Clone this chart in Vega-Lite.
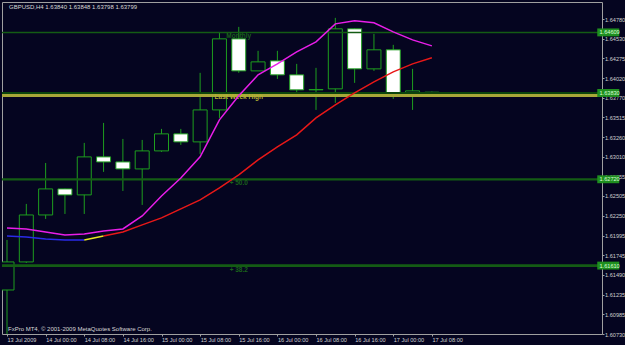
{
  "$schema": "https://vega.github.io/schema/vega-lite/v6.json",
  "width": 600,
  "height": 332,
  "autosize": {"type": "none"},
  "padding": {"left": 2, "top": 2, "right": 23, "bottom": 11},
  "background": "#050520",
  "config": {
    "view": {"stroke": "#a0a0a0", "fill": "#050520"},
    "font": "Liberation Sans, sans-serif",
    "axis": {"grid": false, "domain": false, "labelColor": "#d0d0d0", "tickColor": "#a0a0a0", "tickSize": 2, "labelFontSize": 5.6, "labelFlush": false, "labelOverlap": false, "labelBound": false}
  },
  "layer": [
    {
      "data": {
        "values": [
          {"time": "2009-07-13T16:00:00Z", "open": 1.61296, "high": 1.6194, "low": 1.607, "close": 1.61657},
          {"time": "2009-07-13T20:00:00Z", "open": 1.61657, "high": 1.62403, "low": 1.61644, "close": 1.62261},
          {"time": "2009-07-14T00:00:00Z", "open": 1.62261, "high": 1.6293, "low": 1.6221, "close": 1.62596},
          {"time": "2009-07-14T04:00:00Z", "open": 1.62596, "high": 1.626, "low": 1.62274, "close": 1.62519},
          {"time": "2009-07-14T08:00:00Z", "open": 1.62519, "high": 1.63188, "low": 1.62274, "close": 1.63008},
          {"time": "2009-07-14T12:00:00Z", "open": 1.63008, "high": 1.63445, "low": 1.62815, "close": 1.62943},
          {"time": "2009-07-14T16:00:00Z", "open": 1.62943, "high": 1.63239, "low": 1.6257, "close": 1.62853},
          {"time": "2009-07-14T20:00:00Z", "open": 1.62853, "high": 1.63226, "low": 1.6239, "close": 1.63085},
          {"time": "2009-07-15T00:00:00Z", "open": 1.63085, "high": 1.63368, "low": 1.63072, "close": 1.63304},
          {"time": "2009-07-15T04:00:00Z", "open": 1.63304, "high": 1.63368, "low": 1.63162, "close": 1.63201},
          {"time": "2009-07-15T08:00:00Z", "open": 1.63201, "high": 1.64089, "low": 1.63046, "close": 1.63612},
          {"time": "2009-07-15T12:00:00Z", "open": 1.63612, "high": 1.64603, "low": 1.63509, "close": 1.64526},
          {"time": "2009-07-15T16:00:00Z", "open": 1.64526, "high": 1.6468, "low": 1.64089, "close": 1.64114},
          {"time": "2009-07-15T20:00:00Z", "open": 1.64114, "high": 1.64372, "low": 1.64114, "close": 1.6423},
          {"time": "2009-07-16T00:00:00Z", "open": 1.64243, "high": 1.64372, "low": 1.64011, "close": 1.64063},
          {"time": "2009-07-16T04:00:00Z", "open": 1.64063, "high": 1.64204, "low": 1.63805, "close": 1.6387},
          {"time": "2009-07-16T08:00:00Z", "open": 1.6387, "high": 1.64153, "low": 1.63612, "close": 1.63875},
          {"time": "2009-07-16T12:00:00Z", "open": 1.63883, "high": 1.64796, "low": 1.63703, "close": 1.64655},
          {"time": "2009-07-16T16:00:00Z", "open": 1.64655, "high": 1.6466, "low": 1.6396, "close": 1.6414},
          {"time": "2009-07-16T20:00:00Z", "open": 1.6414, "high": 1.6459, "low": 1.64114, "close": 1.64385},
          {"time": "2009-07-17T00:00:00Z", "open": 1.64385, "high": 1.64449, "low": 1.63754, "close": 1.63818},
          {"time": "2009-07-17T04:00:00Z", "open": 1.63818, "high": 1.6414, "low": 1.63612, "close": 1.63857},
          {"time": "2009-07-17T08:00:00Z", "open": 1.6384, "high": 1.63848, "low": 1.63798, "close": 1.63799}
        ],
        "format": {"parse": {"time": "date"}}
      },
      "encoding": {
        "x": {
          "field": "time",
          "type": "temporal",
          "scale": {"type": "utc", "domain": [{"year": 2009, "month": 7, "date": 13, "hours": 16, "utc": true}, {"year": 2009, "month": 7, "date": 18, "hours": 18, "minutes": 12, "utc": true}]},
          "axis": {
            "title": null,
            "tickCount": 30,
            "values": [
              {"year": 2009, "month": 7, "date": 13, "hours": 16, "utc": true},
              {"year": 2009, "month": 7, "date": 14, "hours": 0, "utc": true},
              {"year": 2009, "month": 7, "date": 14, "hours": 8, "utc": true},
              {"year": 2009, "month": 7, "date": 14, "hours": 16, "utc": true},
              {"year": 2009, "month": 7, "date": 15, "hours": 0, "utc": true},
              {"year": 2009, "month": 7, "date": 15, "hours": 8, "utc": true},
              {"year": 2009, "month": 7, "date": 15, "hours": 16, "utc": true},
              {"year": 2009, "month": 7, "date": 16, "hours": 0, "utc": true},
              {"year": 2009, "month": 7, "date": 16, "hours": 8, "utc": true},
              {"year": 2009, "month": 7, "date": 16, "hours": 16, "utc": true},
              {"year": 2009, "month": 7, "date": 17, "hours": 0, "utc": true},
              {"year": 2009, "month": 7, "date": 17, "hours": 8, "utc": true}
            ],
            "labelExpr": "time(datum.value) == utc(2009,6,13,16) ? '13 Jul 2009' : utcFormat(datum.value, '%d %b %H:%M')",
            "labelAlign": "left",
            "labelBaseline": "top",
            "labelPadding": 1,
            "labelDx": 1,
            "labelOverlap": false
          }
        },
        "y": {
          "type": "quantitative",
          "scale": {"domain": [1.6073, 1.65], "zero": false, "nice": false},
          "axis": {
            "title": null,
            "orient": "right",
            "tickCount": 30,
            "values": [1.6478, 1.6453, 1.64275, 1.6402, 1.6377, 1.63515, 1.6326, 1.6301, 1.62755, 1.62505, 1.6225, 1.61995, 1.61745, 1.6149, 1.61235, 1.60985, 1.6073],
            "format": ".5f",
            "labelPadding": 0.5,
            "labelOverlap": false,
            "labelSeparation": 0
          }
        }
      },
      "layer": [
        {
          "mark": {"type": "rule", "color": "#1e9e1e", "strokeWidth": 1, "clip": true},
          "encoding": {
            "y": {"field": "low", "type": "quantitative"},
            "y2": {"field": "high"}
          }
        },
        {
          "mark": {"type": "bar", "size": 14, "stroke": "#1e9e1e", "strokeWidth": 1, "clip": true},
          "encoding": {
            "y": {"field": "open", "type": "quantitative"},
            "y2": {"field": "close"},
            "fill": {"condition": {"test": "datum.close < datum.open", "value": "#ffffff"}, "value": "#050520"}
          }
        }
      ]
    },
    {
      "data": {"values": [
        {"level": "Monthly", "price": 1.64609, "tag": "1.64609"},
        {"level": "Last Week High", "price": 1.6383, "tag": "1.63830"},
        {"level": "+ 50.0", "price": 1.6272, "tag": "1.62720"},
        {"level": "+ 38.2", "price": 1.6161, "tag": "1.61610"},
        {"level": "Bid", "price": 1.63799, "tag": "1.63799"}
      ]},
      "layer": [
        {
          "mark": {"type": "rule"},
          "encoding": {
            "y": {"field": "price", "type": "quantitative"},
            "color": {"field": "level", "type": "nominal", "legend": null, "scale": {"domain": ["Monthly", "Last Week High", "+ 50.0", "+ 38.2", "Bid"], "range": ["#145c14", "#0c460c", "#145c14", "#145c14", "#a8a838"]}},
            "strokeWidth": {"field": "level", "type": "nominal", "legend": null, "scale": {"domain": ["Monthly", "Last Week High", "+ 50.0", "+ 38.2", "Bid"], "range": [1.5, 3, 1, 1, 1]}}
          }
        },
        {
          "transform": [{"filter": "datum.level != 'Bid'"}],
          "mark": {"type": "text", "align": "center", "baseline": "top", "dy": 1, "fontSize": 6.5, "fontWeight": "bold"},
          "encoding": {
            "x": {"datum": {"year": 2009, "month": 7, "date": 15, "hours": 16, "utc": true}, "type": "temporal"},
            "y": {"field": "price", "type": "quantitative"},
            "text": {"field": "level"},
            "color": {"condition": {"test": "datum.level == 'Last Week High'", "value": "#b4b432"}, "value": "#1a621a"}
          }
        },
        {
          "transform": [{"filter": "datum.level != 'Bid'"}],
          "mark": {"type": "point", "shape": "M-1,-0.36L1,-0.36L1,0.36L-1,0.36Z", "size": 484, "filled": true, "opacity": 1, "strokeWidth": 0, "color": "#1f8f1f", "clip": false},
          "encoding": {
            "x": {"datum": {"year": 2009, "month": 7, "date": 18, "hours": 20, "minutes": 32, "utc": true}, "type": "temporal"},
            "y": {"field": "price", "type": "quantitative"}
          }
        },
        {
          "transform": [{"filter": "datum.level != 'Bid'"}],
          "mark": {"type": "text", "align": "left", "baseline": "middle", "dx": 2.5, "fontSize": 5.6, "color": "#d8ffd8", "clip": false},
          "encoding": {
            "x": {"datum": {"year": 2009, "month": 7, "date": 18, "hours": 18, "minutes": 12, "utc": true}, "type": "temporal"},
            "y": {"field": "price", "type": "quantitative"},
            "text": {"field": "tag"}
          }
        }
      ]
    },
    {
      "data": {
        "values": [
          {"time": "2009-07-13T16:00:00Z", "ma_fast": 1.62094, "ma_slow": 1.61991},
          {"time": "2009-07-13T20:00:00Z", "ma_fast": 1.62081, "ma_slow": 1.61978},
          {"time": "2009-07-14T00:00:00Z", "ma_fast": 1.62043, "ma_slow": 1.61952},
          {"time": "2009-07-14T04:00:00Z", "ma_fast": 1.62004, "ma_slow": 1.6194},
          {"time": "2009-07-14T08:00:00Z", "ma_fast": 1.62017, "ma_slow": 1.6194},
          {"time": "2009-07-14T12:00:00Z", "ma_fast": 1.62056, "ma_slow": 1.61991},
          {"time": "2009-07-14T16:00:00Z", "ma_fast": 1.62081, "ma_slow": 1.62043},
          {"time": "2009-07-14T20:00:00Z", "ma_fast": 1.62248, "ma_slow": 1.62133},
          {"time": "2009-07-15T00:00:00Z", "ma_fast": 1.62506, "ma_slow": 1.62223},
          {"time": "2009-07-15T04:00:00Z", "ma_fast": 1.62737, "ma_slow": 1.62339},
          {"time": "2009-07-15T08:00:00Z", "ma_fast": 1.63008, "ma_slow": 1.62454},
          {"time": "2009-07-15T12:00:00Z", "ma_fast": 1.63484, "ma_slow": 1.62609},
          {"time": "2009-07-15T16:00:00Z", "ma_fast": 1.63793, "ma_slow": 1.62776},
          {"time": "2009-07-15T20:00:00Z", "ma_fast": 1.64063, "ma_slow": 1.62969},
          {"time": "2009-07-16T00:00:00Z", "ma_fast": 1.64204, "ma_slow": 1.63136},
          {"time": "2009-07-16T04:00:00Z", "ma_fast": 1.64359, "ma_slow": 1.63291},
          {"time": "2009-07-16T08:00:00Z", "ma_fast": 1.64487, "ma_slow": 1.63509},
          {"time": "2009-07-16T12:00:00Z", "ma_fast": 1.64719, "ma_slow": 1.63677},
          {"time": "2009-07-16T16:00:00Z", "ma_fast": 1.64758, "ma_slow": 1.63831},
          {"time": "2009-07-16T20:00:00Z", "ma_fast": 1.64732, "ma_slow": 1.63973},
          {"time": "2009-07-17T00:00:00Z", "ma_fast": 1.64616, "ma_slow": 1.64101},
          {"time": "2009-07-17T04:00:00Z", "ma_fast": 1.64513, "ma_slow": 1.64204},
          {"time": "2009-07-17T08:00:00Z", "ma_fast": 1.64436, "ma_slow": 1.64282}
        ],
        "format": {"parse": {"time": "date"}}
      },
      "encoding": {
        "x": {"field": "time", "type": "temporal"}
      },
      "layer": [
        {
          "mark": {"type": "line", "color": "#e81ee8", "strokeWidth": 1.5, "clip": true},
          "encoding": {"y": {"field": "ma_fast", "type": "quantitative"}}
        },
        {
          "transform": [{"filter": "time(datum.time) <= utc(2009,6,14,8)"}],
          "mark": {"type": "line", "color": "#2a2ae8", "strokeWidth": 1.5, "clip": true},
          "encoding": {"y": {"field": "ma_slow", "type": "quantitative"}}
        },
        {
          "transform": [{"filter": "time(datum.time) >= utc(2009,6,14,8) && time(datum.time) <= utc(2009,6,14,12)"}],
          "mark": {"type": "line", "color": "#e8e820", "strokeWidth": 1.5, "clip": true},
          "encoding": {"y": {"field": "ma_slow", "type": "quantitative"}}
        },
        {
          "transform": [{"filter": "time(datum.time) >= utc(2009,6,14,12)"}],
          "mark": {"type": "line", "color": "#e81818", "strokeWidth": 1.5, "clip": true},
          "encoding": {"y": {"field": "ma_slow", "type": "quantitative"}}
        }
      ]
    },
    {
      "data": {"values": [{"note": "GBPUSD,H4 1.63840 1.63848 1.63798 1.63799"}]},
      "mark": {"type": "text", "align": "left", "baseline": "top", "dx": 2, "dy": 1.5, "fontSize": 6, "color": "#d8d8d8"},
      "encoding": {
        "x": {"datum": {"year": 2009, "month": 7, "date": 13, "hours": 16, "utc": true}, "type": "temporal"},
        "y": {"datum": 1.65, "type": "quantitative"},
        "text": {"field": "note"}
      }
    },
    {
      "data": {"values": [{"note": "FxPro MT4, © 2001-2009 MetaQuotes Software Corp."}]},
      "mark": {"type": "text", "align": "left", "baseline": "bottom", "dx": 1, "dy": -2, "fontSize": 6, "color": "#d8d8d8"},
      "encoding": {
        "x": {"datum": {"year": 2009, "month": 7, "date": 13, "hours": 16, "utc": true}, "type": "temporal"},
        "y": {"datum": 1.6073, "type": "quantitative"},
        "text": {"field": "note"}
      }
    }
  ]
}
